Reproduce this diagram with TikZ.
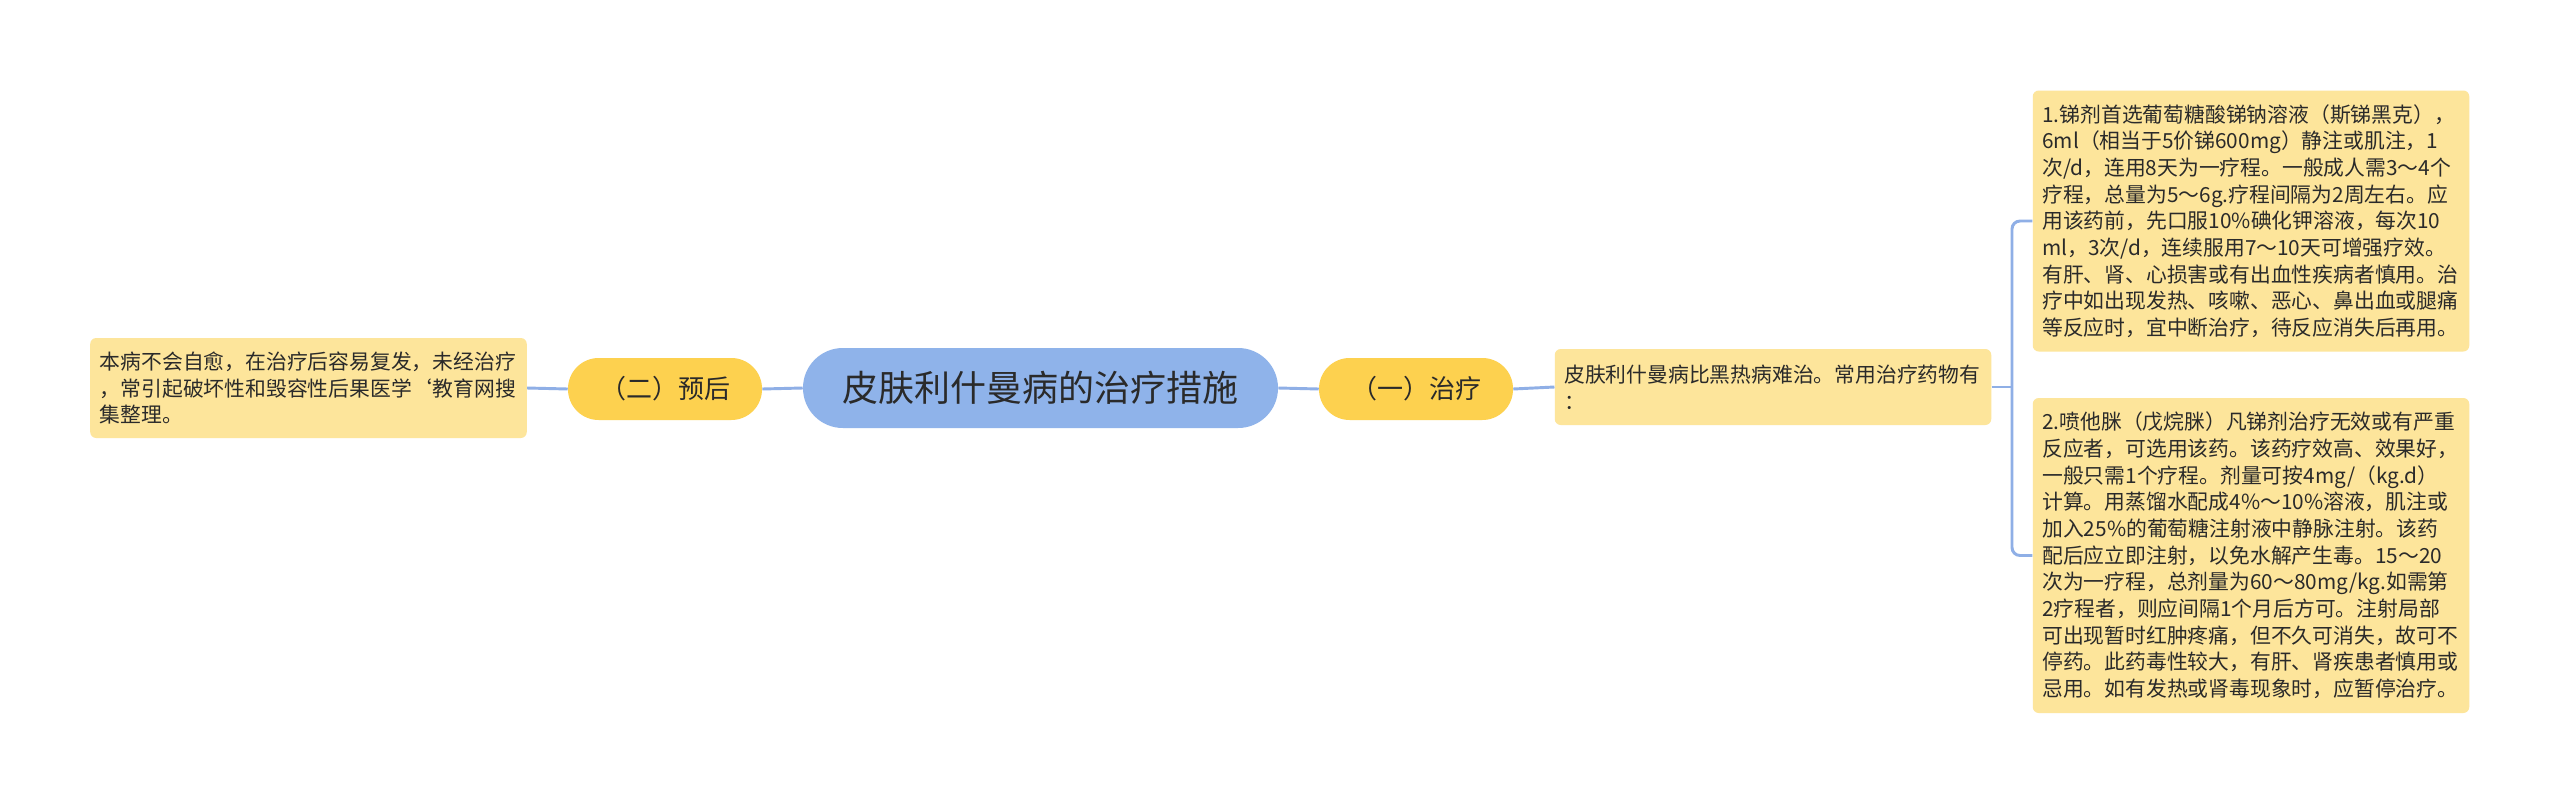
\documentclass[tikz,border=0pt]{standalone}
\usepackage{fontspec}
\setmainfont{Noto Sans CJK SC}
\definecolor{boxc}{HTML}{FDE59B}
\definecolor{pillc}{HTML}{FDD14F}
\definecolor{rootc}{HTML}{8FB3EA}
\definecolor{linec}{HTML}{8FAFE6}
\definecolor{txt}{HTML}{2A2A2A}
\newcommand{\bodyfont}{\fontsize{15.6pt}{20pt}\selectfont}
\begin{document}
\begin{tikzpicture}[x=0.75pt,y=-0.75pt,
  box/.style={fill=boxc, rounded corners=4.5pt, align=left, text width=313pt,
    inner xsep=7.2pt, inner ysep=0pt, font=\bodyfont, text=txt},
  pill/.style={fill=pillc, rounded corners=23pt, minimum width=145.5pt,
    minimum height=46.5pt, inner sep=0pt, font=\fontsize{19.5pt}{22pt}\selectfont, text=txt},
  root/.style={fill=rootc, rounded corners=29.9pt, minimum width=356.25pt,
    minimum height=60pt, inner sep=0pt, font=\fontsize{27pt}{30pt}\selectfont, text=txt},
  conn/.style={draw=linec, line width=2.2pt}]
\fill[white] (0,0) rectangle (2560,803);
\useasboundingbox (0,0) rectangle (2560,803);

\node[root] (C) at (1040.5,388) {皮肤利什曼病的治疗措施};
\node[pill] (P2) at (665,389) {（二）预后};
\node[pill] (P1) at (1416,389) {（一）治疗};

\node[box, minimum height=75pt] (L) at (308.5,388) {本病不会自愈，在治疗后容易复发，未经治疗\\，常引起破坏性和毁容性后果医学\symbol{96}教育网搜\\集整理。};

\node[box, minimum height=57pt] (M) at (1773,387) {皮肤利什曼病比黑热病难治。常用治疗药物有\\：};

\node[box, minimum height=195.75pt] (T) at (2251,221) {1.锑剂首选葡萄糖酸锑钠溶液（斯锑黑克），\\6ml（相当于5价锑600mg）静注或肌注，1\\次/d，连用8天为一疗程。一般成人需3～4个\\疗程，总量为5～6g.疗程间隔为2周左右。应\\用该药前，先口服10\%碘化钾溶液，每次10\\ml，3次/d，连续服用7～10天可增强疗效。\\有肝、肾、心损害或有出血性疾病者慎用。治\\疗中如出现发热、咳嗽、恶心、鼻出血或腿痛\\等反应时，宜中断治疗，待反应消失后再用。};

\node[box, minimum height=236.25pt] (B) at (2251,555.5) {2.喷他脒（戊烷脒）凡锑剂治疗无效或有严重\\反应者，可选用该药。该药疗效高、效果好，\\一般只需1个疗程。剂量可按4mg/（kg.d）\\计算。用蒸馏水配成4\%～10\%溶液，肌注或\\加入25\%的葡萄糖注射液中静脉注射。该药\\配后应立即注射，以免水解产生毒。15～20\\次为一疗程，总剂量为60～80mg/kg.如需第\\2疗程者，则应间隔1个月后方可。注射局部\\可出现暂时红肿疼痛，但不久可消失，故可不\\停药。此药毒性较大，有肝、肾疾患者慎用或\\忌用。如有发热或肾毒现象时，应暂停治疗。};

\draw[conn] (L.east) -- (P2.west);
\draw[conn] (P2.east) -- (C.west);
\draw[conn] (C.east) -- (P1.west);
\draw[conn] (P1.east) -- (M.west);
\coordinate (bx) at (2012,387);
\draw[conn] (M.east) -- (bx);
\draw[conn, rounded corners=6pt] (T.west) -- (bx |- T.west) -- (bx |- B.west) -- (B.west);
\end{tikzpicture}
\end{document}
